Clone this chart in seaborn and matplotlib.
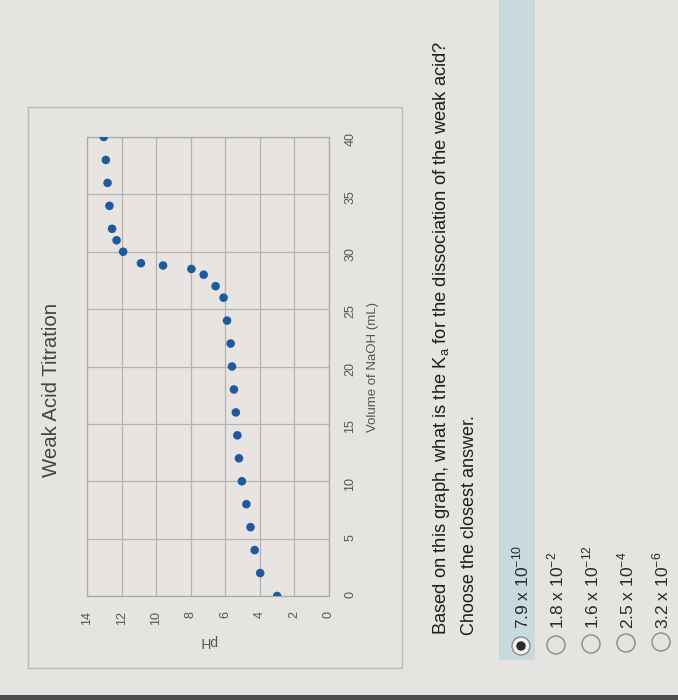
import numpy as np
import matplotlib
matplotlib.use("Agg")
import matplotlib.pyplot as plt
import matplotlib.patches as mpatches
import seaborn as sns

# titration data
volume_ml = [0, 2, 4, 6, 8, 10, 12, 14, 16, 18, 20, 22, 24, 26,
             27, 28, 28.5, 28.8, 29, 30, 31, 32, 34, 36, 38, 40]
ph = [3.0, 3.98, 4.3, 4.54, 4.78, 5.04, 5.21, 5.3, 5.39, 5.5, 5.61, 5.69, 5.9, 6.1,
      6.56, 7.25, 7.96, 9.6, 10.88, 11.91, 12.29, 12.55, 12.7, 12.81, 12.91, 13.03]

ph_ticks = [0, 2, 4, 6, 8, 10, 12, 14]
volume_ticks = [0, 5, 10, 15, 20, 25, 30, 35, 40]

title = "Weak Acid Titration"
question = "Based on this graph, what is the K$_\\mathregular{a}$ for the dissociation of the weak acid?"
instruction = "Choose the closest answer."
answers = ["7.9 x 10$^\\mathregular{-10}$", "1.8 x 10$^\\mathregular{-2}$", "1.6 x 10$^\\mathregular{-12}$",
           "2.5 x 10$^\\mathregular{-4}$", "3.2 x 10$^\\mathregular{-6}$"]
selected = 0

sns.set_theme(style="whitegrid")
plt.rcParams['font.family'] = ['Liberation Sans', 'DejaVu Sans']
plt.rcParams['mathtext.fontset'] = 'custom'
plt.rcParams['mathtext.rm'] = 'Liberation Sans'

W, H = 678, 700
bg = '#e6e4e1'
fig = plt.figure(figsize=(W / 100, H / 100), dpi=100, facecolor=bg)

# overlay in pixel coords for the page decorations (photo is rotated 90 deg ccw)
page = fig.add_axes([0, 0, 1, 1], zorder=0)
page.set_xlim(0, W)
page.set_ylim(H, 0)
page.axis('off')
page.patch.set_alpha(0)
page.add_patch(mpatches.Rectangle((28, 107), 374, 561, fill=False, ec='#b9b9b9', lw=1))
page.add_patch(mpatches.Rectangle((499, 0), 36, 660, color='#c9dadf', lw=0))
page.add_patch(mpatches.Rectangle((0, 695), W, 5, color='#4d4d4d', lw=0))

# the chart, with pH running right-to-left and volume bottom-to-top
ax = fig.add_axes([87 / W, 1 - 596 / H, 242 / W, 459 / H], zorder=1)
ax.set_facecolor('#e7e4e2')
sns.scatterplot(x=ph, y=volume_ml, ax=ax, color='#1f5aa0', s=38, edgecolor='none', zorder=3)
ax.set_xlim(14, 0)
ax.set_ylim(0, 40)
ax.set_xticks(ph_ticks)
ax.set_yticks(volume_ticks)
ax.grid(True, color='#b3b3b3', lw=0.9)
for sp in ax.spines.values():
    sp.set_color('#a9a9a9')
    sp.set_linewidth(0.9)
ax.yaxis.tick_right()
ax.yaxis.set_label_position('right')
ax.tick_params(axis='x', labelrotation=90, length=0, pad=11, labelsize=9, labelcolor='#555555')
ax.tick_params(axis='y', labelrotation=90, length=0, pad=11, labelsize=9, labelcolor='#555555')
ax.set_xlabel('pH', rotation=180, fontsize=10, color='#555555', labelpad=6)
ax.set_ylabel('Volume of NaOH (mL)', rotation=90, fontsize=9.5, color='#555555', labelpad=8)

fig.text(52 / W, 1 - 390 / H, title, rotation=90, ha='center', va='center',
         fontsize=14.7, color='#444444')

# question block, rotated like the rest of the screen
fig.text(441 / W, 1 - 635 / H, question, rotation=90, rotation_mode='anchor',
         ha='left', va='center', fontsize=13.2, color='#1e1e1e')
fig.text(469 / W, 1 - 635 / H, instruction, rotation=90, rotation_mode='anchor',
         ha='left', va='center', fontsize=13, color='#1e1e1e')

answer_x = [521, 556, 591, 626, 661]
for i, (txt, xp) in enumerate(zip(answers, answer_x)):
    page.add_patch(mpatches.Circle((xp, 646 - i), 9, fill=i == selected, fc='#f2f2f2',
                                   ec='#8a8a8a', lw=1))
    if i == selected:
        page.add_patch(mpatches.Circle((xp, 646 - i), 4, color='#2a2a2a'))
    fig.text(xp / W, 1 - 629 / H, txt, rotation=90, rotation_mode='anchor',
             ha='left', va='center', fontsize=12.5, color='#2a2a2a')

fig.savefig('out.png', dpi=100, facecolor=bg)
